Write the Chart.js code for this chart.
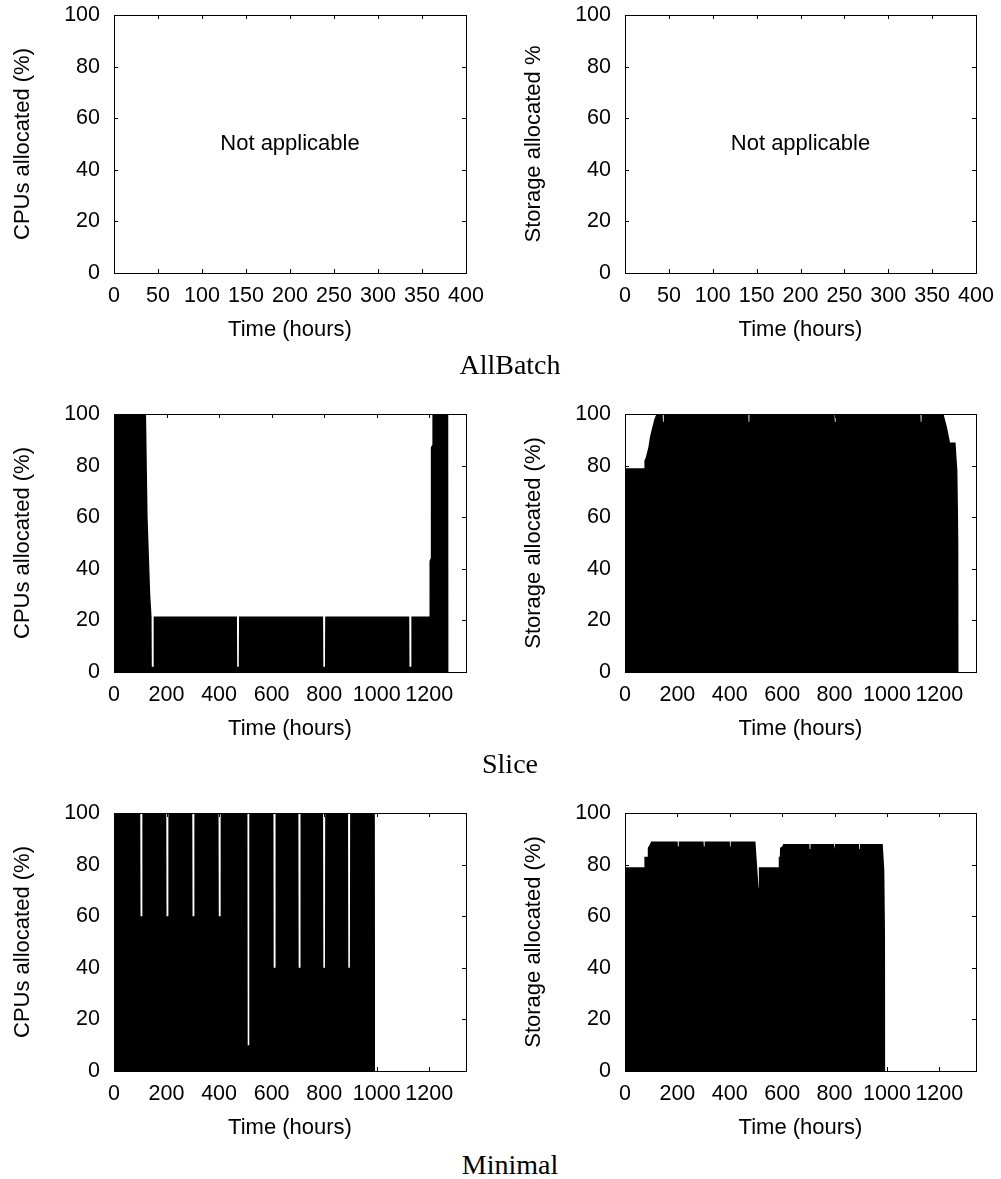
<!DOCTYPE html>
<html>
<head>
<meta charset="utf-8">
<script src="https://cdn.jsdelivr.net/npm/chart.js@4.4.1/dist/chart.umd.min.js"></script>
<style>
	body { margin: 0; background: #fff; width: 1001px; height: 1179px; overflow: hidden; position: relative; }
	canvas { position: absolute; }
	.caption { position: absolute; left: 0; width: 1020px; text-align: center; font-family: "Liberation Serif", serif; font-size: 28px; line-height: 28px; color: #000; }
</style>
</head>
<body>
<canvas id="allbatch_cpu" width="500" height="350" style="left:0px;top:0px"></canvas>
<canvas id="allbatch_storage" width="490" height="350" style="left:511px;top:0px"></canvas>
<canvas id="slice_cpu" width="500" height="350" style="left:0px;top:399px"></canvas>
<canvas id="slice_storage" width="490" height="350" style="left:511px;top:399px"></canvas>
<canvas id="minimal_cpu" width="500" height="350" style="left:0px;top:798px"></canvas>
<canvas id="minimal_storage" width="490" height="350" style="left:511px;top:798px"></canvas>
<div class="caption" style="top:351px">AllBatch</div>
<div class="caption" style="top:750px">Slice</div>
<div class="caption" style="top:1151px">Minimal</div>
<script>
// tick labels
var yTicks = [0, 20, 40, 60, 80, 100];
var xTicksShort = [0, 50, 100, 150, 200, 250, 300, 350, 400];
var xTicksLong = [0, 200, 400, 600, 800, 1000, 1200];

// Slice - CPUs allocated (%)
var sliceCpuTime = [0, 122, 128, 138, 143, 144, 150, 151, 468, 469, 475, 476, 796, 797, 803, 804, 1124, 1125, 1131, 1132, 1200, 1201, 1205, 1206, 1211, 1212, 1273, 1274];
var sliceCpuValue = [100, 100, 60, 30, 21.5, 2, 2, 21.5, 21.5, 2, 2, 21.5, 21.5, 2, 2, 21.5, 21.5, 2, 2, 21.5, 21.5, 43, 44, 87, 88, 100, 100, 0];

// Slice - Storage allocated (%)
var sliceStorageTime = [0, 73, 74, 79, 89, 95, 102, 112, 120, 144, 145, 147, 148, 471, 472, 474, 475, 800, 801, 803, 804, 1128, 1129, 1131, 1132, 1216, 1229, 1241, 1262, 1265, 1269, 1273, 1274];
var sliceStorageValue = [79, 79, 82, 83, 87, 91, 94, 98, 100, 100, 97, 97, 100, 100, 97, 97, 100, 100, 97, 97, 100, 100, 97, 97, 100, 100, 95, 89, 89, 84, 78, 50, 0];

// Minimal - CPUs allocated (%)
var minimalCpuTime = [0, 100, 101, 107, 108, 199, 200, 206, 207, 298, 299, 305, 306, 398, 399, 405, 406, 508, 509, 514, 515, 607, 608, 614, 615, 702, 703, 709, 710, 796, 797, 803, 804, 891, 892, 898, 899, 993, 994];
var minimalCpuValue = [100, 100, 60, 60, 100, 100, 60, 60, 100, 100, 60, 60, 100, 100, 60, 60, 100, 100, 10, 10, 100, 100, 40, 40, 100, 100, 40, 40, 100, 100, 40, 40, 100, 100, 40, 40, 100, 100, 0];

// Minimal - Storage allocated (%)
var minimalStorageTime = [0, 73, 74, 86, 87, 93, 100, 201, 202, 204, 205, 300, 301, 303, 304, 400, 401, 403, 404, 498, 510, 511, 586, 587, 591, 592, 600, 604, 704, 705, 707, 708, 798, 799, 801, 802, 893, 894, 896, 897, 984, 990, 993, 994];
var minimalStorageValue = [79, 79, 83, 83, 86.5, 87.5, 89, 89, 87, 87, 89, 89, 87, 87, 89, 89, 87, 87, 89, 89, 71, 79, 79, 83, 83, 86.5, 87, 88, 88, 86, 86, 88, 88, 86, 86, 88, 88, 86, 86, 88, 88, 78, 50, 0];

var sansFont = "'Liberation Sans', Arial, sans-serif";

// gnuplot style box with inward ticks on all four sides
const framePlugin = {
	id: "frame",
	afterDatasetsDraw(chart, args, opts) {
		const ctx = chart.ctx;
		const a = chart.chartArea;
		const xs = chart.scales.x;
		const ys = chart.scales.y;
		ctx.save();
		ctx.strokeStyle = "#000";
		ctx.lineWidth = 1;
		ctx.beginPath();
		xs.ticks.forEach(function (t) {
			const px = Math.round(xs.getPixelForValue(t.value)) + 0.5;
			ctx.moveTo(px, a.bottom);
			ctx.lineTo(px, a.bottom - 4);
			ctx.moveTo(px, a.top);
			ctx.lineTo(px, a.top + 4);
		});
		ys.ticks.forEach(function (t) {
			const py = Math.round(ys.getPixelForValue(t.value)) + 0.5;
			ctx.moveTo(a.left, py);
			ctx.lineTo(a.left + 4, py);
			ctx.moveTo(a.right, py);
			ctx.lineTo(a.right - 4, py);
		});
		ctx.stroke();
		ctx.strokeRect(a.left + 0.5, a.top + 0.5, a.right - a.left, a.bottom - a.top);
		if (opts.note) {
			ctx.fillStyle = "#000";
			ctx.font = "22px " + sansFont;
			ctx.textAlign = "center";
			ctx.textBaseline = "middle";
			ctx.fillText(opts.note.text, xs.getPixelForValue(opts.note.x), ys.getPixelForValue(opts.note.y));
		}
		ctx.restore();
	},
};

function noPadding(s) {
	s.paddingTop = 0;
	s.paddingBottom = 0;
	s.paddingLeft = 0;
	s.paddingRight = 0;
}

function makeChart(id, times, values, xTicks, xMax, yTitle, rightPad, note) {
	var points = [];
	for (let i = 0; i < times.length; i++) {
		points.push({ x: times[i], y: values[i] });
	}

	const config = {
		type: "line",
		data: {
			datasets: [
				{
					data: points,
					fill: "origin",
					backgroundColor: "#000",
					borderColor: "rgba(0,0,0,0)",
					borderWidth: 0,
					pointRadius: 0,
					tension: 0,
				},
			],
		},
		options: {
			responsive: false,
			animation: false,
			events: [],
			layout: { padding: { left: 0, right: rightPad, top: 15, bottom: 0 } },
			plugins: {
				legend: { display: false },
				tooltip: { enabled: false },
				frame: { note: note },
			},
			scales: {
				x: {
					type: "linear",
					min: 0,
					max: xMax,
					afterBuildTicks: function (s) {
						s.ticks = xTicks.map(function (v) { return { value: v }; });
					},
					afterFit: function (s) {
						s.height = 77;
						noPadding(s);
					},
					grid: { display: false, drawTicks: false },
					border: { display: false },
					ticks: {
						color: "#000",
						padding: 10,
						autoSkip: false,
						maxRotation: 0,
						minRotation: 0,
						callback: function (v) { return String(v); },
						font: { family: sansFont, size: 21.5 },
					},
					title: {
						display: true,
						text: "Time (hours)",
						color: "#000",
						padding: { top: 0, bottom: 7 },
						font: { family: sansFont, size: 22 },
					},
				},
				y: {
					min: 0,
					max: 100,
					afterBuildTicks: function (s) {
						s.ticks = yTicks.map(function (v) { return { value: v }; });
					},
					afterFit: function (s) {
						s.width = 114;
						noPadding(s);
					},
					grid: { display: false, drawTicks: false },
					border: { display: false },
					ticks: {
						color: "#000",
						padding: 14,
						callback: function (v) { return String(v); },
						font: { family: sansFont, size: 21.5 },
					},
					title: {
						display: true,
						text: yTitle,
						color: "#000",
						padding: { top: 10, bottom: 0 },
						font: { family: sansFont, size: 22 },
					},
				},
			},
		},
		plugins: [framePlugin],
	};

	return new Chart(document.getElementById(id), config);
}

var notApplicable = { text: "Not applicable", x: 200, y: 50 };

makeChart("allbatch_cpu", [], [], xTicksShort, 400, "CPUs allocated (%)", 34, notApplicable);
makeChart("allbatch_storage", [], [], xTicksShort, 400, "Storage allocated %", 25, notApplicable);
makeChart("slice_cpu", sliceCpuTime, sliceCpuValue, xTicksLong, 1340, "CPUs allocated (%)", 34, null);
makeChart("slice_storage", sliceStorageTime, sliceStorageValue, xTicksLong, 1340, "Storage allocated (%)", 25, null);
makeChart("minimal_cpu", minimalCpuTime, minimalCpuValue, xTicksLong, 1340, "CPUs allocated (%)", 34, null);
makeChart("minimal_storage", minimalStorageTime, minimalStorageValue, xTicksLong, 1340, "Storage allocated (%)", 25, null);
</script>
</body>
</html>
